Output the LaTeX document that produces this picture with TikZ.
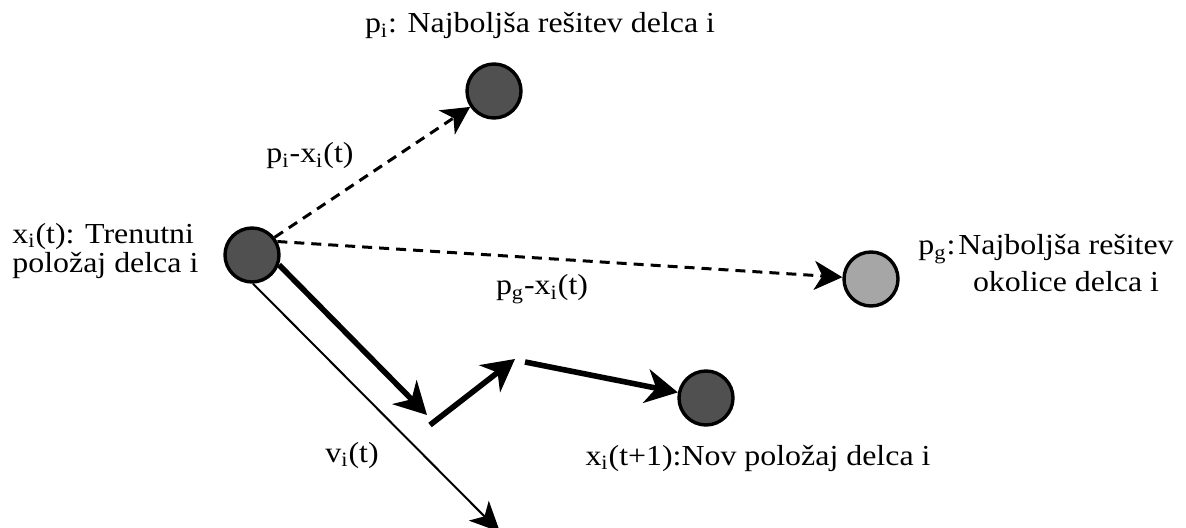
\documentclass[tikz,border=0pt]{standalone}
\usepackage{fontspec}
\setmainfont{Liberation Serif}[FakeStretch=1.1]
\usepackage{xcolor}
\usepackage{tikz}
\usetikzlibrary{arrows.meta,positioning,calc}
\definecolor{partDark}{HTML}{505050}
\definecolor{partLight}{HTML}{A6A6A6}
\providecommand{\sub}[1]{\textsubscript{#1}}

\begin{document}
\begin{tikzpicture}[x=0.5pt,y=-0.5pt,
    particle/.style={circle,draw=black,line width=1.7pt,fill=partDark,
                     minimum size=27pt,inner sep=0pt},
    lbl/.style={inner sep=0pt,font=\fontsize{14.5}{14.5}\selectfont},
    dvec/.style={line width=1.5pt,dash pattern=on 5pt off 3.5pt,
                 -{Stealth[length=14pt,width=14.5pt,inset=4pt]}},
    tvec/.style={line width=2.8pt,
                 -{Stealth[length=16pt,width=17pt,inset=5pt]}},
    vvec/.style={line width=1pt,
                 -{Stealth[length=15pt,width=14pt,inset=4pt]}}
  ]
  \useasboundingbox (0,0) rectangle (1186,528);
  %% Particles
  \node[particle] (xi)   at (252,255) {};
  \node[particle] (pi)   at (494,91)  {};
  \node[particle,fill=partLight] (pg) at (871,279) {};
  \node[particle] (xnew) at (706,398) {};
  %% Free ends of the velocity vectors
  \coordinate (vend)  at (500,532);
  \coordinate (v1end) at (427,415);
  \coordinate (c1s)   at (430,425);
  \coordinate (c1e)   at (515,359);
  \coordinate (c2s)   at (525,362);
  %% Labels
  \node[lbl,anchor=base] (pilab) at (540,33) {p\sub{i}: Najboljša rešitev delca i};
  \node[lbl,anchor=base] (pidiff) at (310,163) {p\sub{i}-x\sub{i}(t)};
  \node[lbl,anchor=west,align=left] (xilab) at (12,251)
       {x\sub{i}(t): Trenutni\\položaj delca i};
  \node[lbl,anchor=base] (pgdiff) at (542,295) {p\sub{g}-x\sub{i}(t)};
  \node[lbl,anchor=base west,font=\fontsize{14.5}{18.5}\selectfont] (pglab) at (918,255)
       {p\sub{g}:\kern1.5pt\begin{tabular}[t]{@{}c@{}}Najboljša rešitev\\okolice delca i\end{tabular}};
  \node[lbl,anchor=base] (vlab) at (352,462) {v\sub{i}(t)};
  \node[lbl,anchor=base] (xnewlab) at (758,465) {x\sub{i}(t+1):Nov položaj delca i};
  %% Difference vectors
  \draw[dvec] (xi.38) -- (pi);
  \draw[dvec] (xi.28) -- (pg);
  %% Velocity and its components
  \draw[vvec] (xi.-88) -- (vend);
  \draw[tvec] (xi.-20) -- (v1end);
  \draw[tvec] (c1s) -- (c1e);
  \draw[tvec] (c2s) -- (xnew);
\end{tikzpicture}
\end{document}
